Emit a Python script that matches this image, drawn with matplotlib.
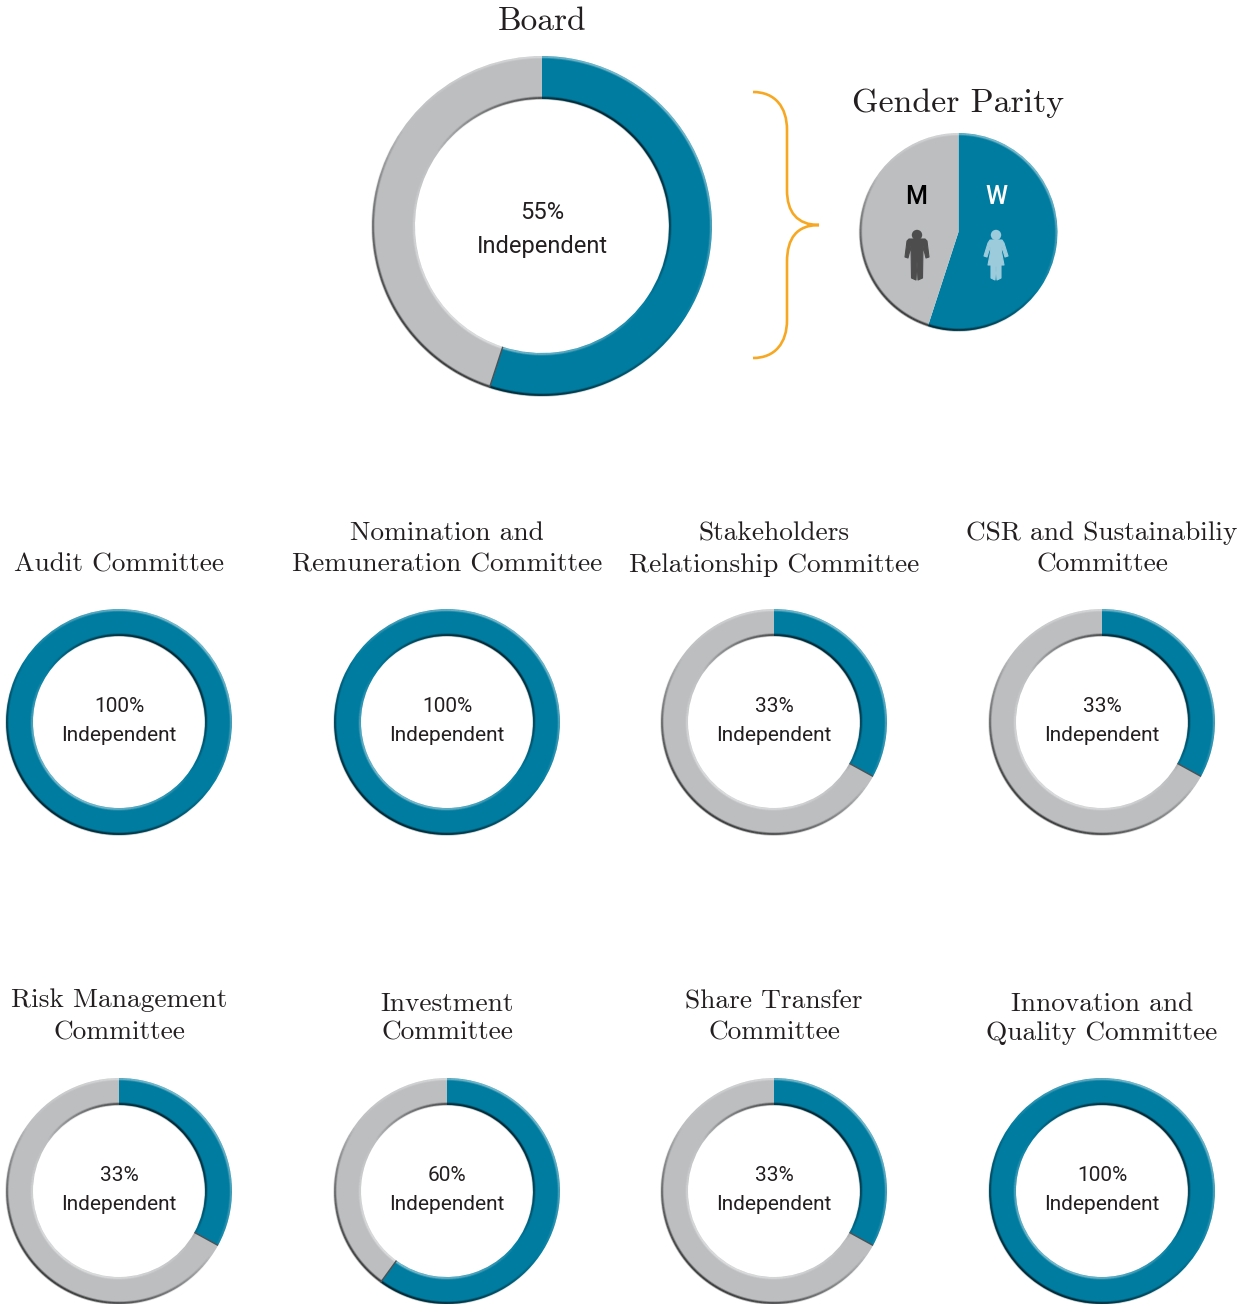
import numpy as np
import matplotlib
matplotlib.use('Agg')
import matplotlib.pyplot as plt
from matplotlib.collections import LineCollection
from matplotlib.patches import Circle, PathPatch, Polygon
from matplotlib.path import Path

W, H = 1253, 1304
TEAL = '#007CA0'
GREY = '#BCBEC0'
TEXT = '#231F20'
TITLE_FONT = 'cmr10'
BODY_FONT = 'Roboto'

board_value = 55
gender_labels = ['W', 'M']
gender_values = [55, 45]

committee_titles = ['Audit Committee', 'Nomination and\nRemuneration Committee',
                    'Stakeholders\nRelationship Committee',
                    'CSR and Sustainabiliy\nCommittee',
                    'Risk Management\nCommittee', 'Investment\nCommittee',
                    'Share Transfer\nCommittee',
                    'Innovation and\nQuality Committee']
committee_values = [100, 100, 33, 33, 33, 60, 33, 100]

# pixel layout of the committee grid
col_x = [119, 447, 774, 1102]
row_y = [722, 1191]
title_base = [572, 1040]
title_spacing = [1.42, 1.42, 1.42, 1.42, 1.47, 1.3, 1.44, 1.26]


def py(y):
    """Flip a pixel row into axes coordinates"""
    return H - y


def bevel(ax, cx, cy, r, sign, lw=2.5):
    """Shade a circle edge, light on one side and dark on the other"""
    th = np.radians(np.linspace(0, 360, 181))
    pts = np.column_stack([cx + r * np.cos(th), cy + r * np.sin(th)])
    segs = np.stack([pts[:-1], pts[1:]], axis=1)
    t = sign * np.cos((th[:-1] + th[1:]) / 2 - np.radians(55))
    cols = np.zeros((len(t), 4))
    cols[t > 0, :3] = 1
    cols[:, 3] = np.where(t > 0, 0.35 * t, 0.55 * -t)
    for w, k in ((lw, 0.5), (lw * 0.5, 1.0)):
        c = cols.copy()
        c[:, 3] *= k
        ax.add_collection(LineCollection(segs, colors=c, linewidths=w,
                                         capstyle='butt', zorder=3))


def donut(ax, cx, cy, r_out, r_in, value):
    """Draw one independence ring, clockwise from the top"""
    vals = [value, 100 - value]
    ax.pie(vals, colors=[TEAL, GREY], center=(cx, py(cy)), radius=r_out,
           startangle=90, counterclock=False, frame=True,
           wedgeprops={'width': r_out - r_in, 'linewidth': 0})
    bevel(ax, cx, py(cy), r_out - 1, 1)
    bevel(ax, cx, py(cy), r_in + 1, -1)
    if 0 < value < 100:
        th = np.radians(90 - 3.6 * value)
        ax.plot([cx + r_in * np.cos(th), cx + r_out * np.cos(th)],
                [py(cy) + r_in * np.sin(th), py(cy) + r_out * np.sin(th)],
                color='#4a5053', lw=1.0, zorder=4, solid_capstyle='butt')


def person(ax, x, color, woman=False):
    """Small toilet-sign style figure centred on x"""
    ax.add_patch(Circle((x, py(235)), 5.2, color=color, lw=0, zorder=5))
    if woman:
        outline = [(-6, 240), (6, 240), (8, 243), (12, 256), (9, 257), (6, 247),
                   (5.5, 252), (8, 265), (5, 265), (5, 278), (1, 280), (0, 266),
                   (-1, 280), (-5, 278), (-5, 265), (-8, 265), (-5.5, 252),
                   (-6, 247), (-9, 257), (-12, 256), (-8, 243)]
    else:
        outline = [(-8, 239), (8, 239), (10, 241), (12, 257), (9, 258), (6, 246),
                   (5.5, 278), (1, 280), (0, 261), (-1, 280), (-5.5, 278),
                   (-6, 246), (-9, 258), (-12, 257), (-10, 241)]
    ax.add_patch(Polygon([(x + dx, py(y)) for dx, y in outline], closed=True,
                         fc=color, ec=color, lw=0.8, joinstyle='round', zorder=5))


fig = plt.figure(figsize=(W / 100, H / 100), dpi=100)
ax = fig.add_axes([0, 0, 1, 1])

# Board ring
donut(ax, 542, 226, 170, 127, board_value)
ax.text(542, py(219), f'{board_value}%', family=BODY_FONT, fontsize=17,
        ha='center', va='baseline', color=TEXT)
ax.text(542, py(253), 'Independent', family=BODY_FONT, fontsize=17,
        ha='center', va='baseline', color=TEXT)
ax.text(542.5, py(30), 'Board', family=TITLE_FONT, fontsize=24, ha='center',
        va='baseline', color=TEXT)

# Bracket between the board ring and the gender pie
brace = Path([(753, 92), (775, 92), (787, 107), (787, 130),
              (787, 190), (787, 212), (797, 225), (819, 225),
              (797, 225), (787, 238), (787, 262),
              (787, 320), (787, 343), (775, 358), (753, 358)],
             [Path.MOVETO, Path.CURVE4, Path.CURVE4, Path.CURVE4,
              Path.LINETO, Path.CURVE4, Path.CURVE4, Path.CURVE4,
              Path.CURVE4, Path.CURVE4, Path.CURVE4,
              Path.LINETO, Path.CURVE4, Path.CURVE4, Path.CURVE4])
brace = Path(np.column_stack([brace.vertices[:, 0], H - brace.vertices[:, 1]]),
             brace.codes)
ax.add_patch(PathPatch(brace, fc='none', ec='#F7A823', lw=1.9))

# Gender parity pie
ax.pie(gender_values, colors=[TEAL, GREY], center=(958.5, py(232)), radius=99,
       startangle=90, counterclock=False, frame=True, wedgeprops={'linewidth': 0})
bevel(ax, 958.5, py(232), 98, 1)
ax.text(958.5, py(112), 'Gender Parity', family=TITLE_FONT, fontsize=24.4,
        ha='center', va='baseline', color=TEXT)
ax.text(996, py(204), gender_labels[0], family=BODY_FONT, fontsize=18, ha='center',
        va='baseline', color='white', fontweight='medium')
ax.text(916.5, py(204), gender_labels[1], family=BODY_FONT, fontsize=18, ha='center',
        va='baseline', color='black', fontweight='medium')
person(ax, 996, '#9CCBDC', woman=True)
person(ax, 917, '#4D4D4D')

# Committee rings
for i, (title, value) in enumerate(zip(committee_titles, committee_values)):
    row, col = divmod(i, 4)
    cx, cy = col_x[col], row_y[row]
    donut(ax, cx, cy, 113, 86, value)
    ax.text(cx, py(title_base[row]), title, family=TITLE_FONT, fontsize=19.7,
            ha='center', va='baseline', multialignment='center',
            linespacing=title_spacing[i], color=TEXT)
    ax.text(cx, py(cy - 10), f'{value}%', family=BODY_FONT, fontsize=15,
            ha='center', va='baseline', color=TEXT)
    ax.text(cx, py(cy + 19), 'Independent', family=BODY_FONT, fontsize=15,
            ha='center', va='baseline', color=TEXT)

ax.set_xlim(0, W)
ax.set_ylim(0, H)
ax.axis('off')
fig.savefig('out.png', dpi=100, facecolor='white')
